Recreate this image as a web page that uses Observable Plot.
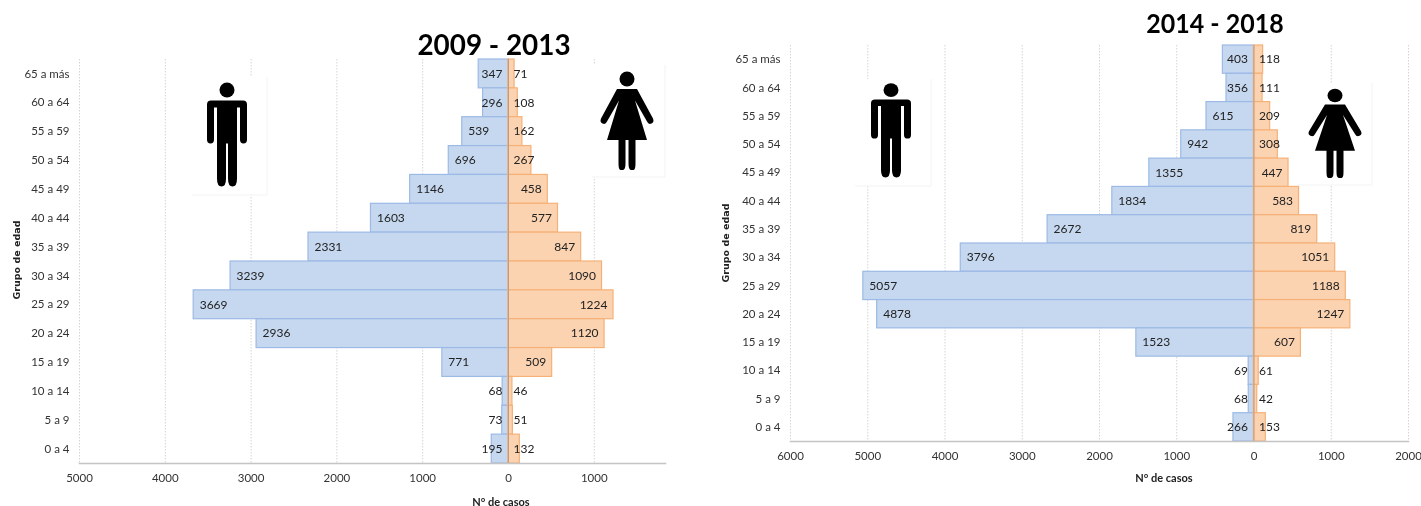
<!DOCTYPE html>
<html><head><meta charset="utf-8">
<script src="https://cdn.jsdelivr.net/npm/d3@7"></script>
<script src="https://cdn.jsdelivr.net/npm/@observablehq/plot@0.6"></script>
<style>
html,body{margin:0;padding:0;background:#fff;width:1421px;height:506px;overflow:hidden}
#page{position:relative;width:1421px;height:506px;font-family:Lato,sans-serif;filter:blur(.35px)}
.t{position:absolute;white-space:nowrap;transform:translate(-50%,-50%);color:#000}
.title{font-weight:700;transform:translate(-50%,-50%) scaleX(.96)}
.xl{font-weight:700;font-size:11px;color:#222}
.yl{font-family:"DejaVu Sans",sans-serif;font-weight:700;font-size:9.5px;color:#222;transform:translate(-50%,-50%) rotate(-90deg)}
.icon{position:absolute;overflow:visible}
</style></head><body><div id="page"></div>
<script>
const ageGroups = ["65 a más","60 a 64","55 a 59","50 a 54","45 a 49","40 a 44","35 a 39","30 a 34","25 a 29","20 a 24","15 a 19","10 a 14","5 a 9","0 a 4"];
const men0913 = [347,296,539,696,1146,1603,2331,3239,3669,2936,771,68,73,195];
const women0913 = [71,108,162,267,458,577,847,1090,1224,1120,509,46,51,132];
const men1418 = [403,356,615,942,1355,1834,2672,3796,5057,4878,1523,69,68,266];
const women1418 = [118,111,209,308,447,583,819,1051,1188,1247,607,61,42,153];
const ticks0913 = [-5000,-4000,-3000,-2000,-1000,0,1000];
const ticks1418 = [-6000,-5000,-4000,-3000,-2000,-1000,0,1000,2000];

const BLUE="#c6d8f0", BLUE_S="#9dbae4", ORANGE="#fbd3b0", ORANGE_S="#f6b179", FONT='Lato,sans-serif';
const page=document.getElementById("page");

function panel({men,women,ticks,domain,left,width,mL,mR,top,bottom}){
  const rows=ageGroups.map((g,i)=>({g,m:men[i],w:women[i]}));
  const chart=Plot.plot({
    width,height:506,marginLeft:mL,marginRight:mR,marginTop:top,marginBottom:506-bottom,
    style:{background:"transparent",fontFamily:FONT,fontSize:"12px",color:"#333"},
    x:{domain,ticks,tickFormat:d=>String(Math.abs(d))},
    y:{domain:ageGroups,padding:0,round:false},
    marks:[
      Plot.ruleX(ticks,{stroke:"#d4d4d4",strokeDasharray:"1.5 1.5",strokeWidth:1}),
      Plot.barX(rows,{y:"g",x1:0,x2:d=>-d.m,fill:BLUE,stroke:BLUE_S,strokeWidth:1.2}),
      Plot.barX(rows,{y:"g",x1:0,x2:"w",fill:ORANGE,stroke:ORANGE_S,strokeWidth:1.2}),
      Plot.ruleX([0],{stroke:"#c49a78",strokeWidth:1}),
      Plot.frame({anchor:"bottom",stroke:"#c4c4c4",strokeWidth:1.5}),
      Plot.axisX({ticks,tickSize:0,tickPadding:10,label:null,fontSize:11.5,tickFormat:d=>String(Math.abs(d))}),
      Plot.axisY({tickSize:0,tickPadding:10,label:null,fontSize:11.5}),
      Plot.text(rows.filter(d=>d.m>=500),{y:"g",x:d=>-d.m,text:d=>String(d.m),textAnchor:"start",dx:6,fill:"#222",fontSize:12}),
      Plot.text(rows.filter(d=>d.m<500),{y:"g",x:()=>0,text:d=>String(d.m),textAnchor:"end",dx:-6,fill:"#222",fontSize:12}),
      Plot.text(rows.filter(d=>d.w>=400),{y:"g",x:"w",text:d=>String(d.w),textAnchor:"end",dx:-6,fill:"#222",fontSize:12}),
      Plot.text(rows.filter(d=>d.w<400),{y:"g",x:()=>0,text:d=>String(d.w),textAnchor:"start",dx:5,fill:"#222",fontSize:12})
    ]
  });
  chart.style.position="absolute";chart.style.left=left+"px";chart.style.top="0";
  page.appendChild(chart);
}
panel({men:men0913,women:women0913,ticks:ticks0913,domain:[-5000,1830],left:0,width:700,mL:79,mR:35,top:59,bottom:463});
panel({men:men1418,women:women1418,ticks:ticks1418,domain:[-6000,2000],left:710,width:711,mL:80,mR:13,top:45,bottom:441});

function label(cls,text,x,y,size){
  const d=document.createElement("div");d.className="t "+cls;d.textContent=text;
  d.style.left=x+"px";d.style.top=y+"px";if(size)d.style.fontSize=size+"px";page.appendChild(d);
}
label("title","2009 - 2013",494,43,29);
label("title","2014 - 2018",1215,23,26);
label("xl","N° de casos",501,501);
label("xl","N° de casos",1164,477);
label("yl","Grupo de edad",16,260);
label("yl","Grupo de edad",725,243);

const NS="http://www.w3.org/2000/svg";
const manShape=`<circle cx="20" cy="7.5" r="7.5"/><path d="M4 18H36Q40 18 40 22V57Q40 61 36.5 61T33 57V25H30V96Q30 104 25.5 104T21 96V61H19V96Q19 104 14.5 104T10 96V25H7V57Q7 61 3.5 61T0 57V22Q0 18 4 18Z"/>`;
const womanShape=`<circle cx="26" cy="7.5" r="7.5"/><path d="M16 17.5H36L52 47Q53.5 50.5 50.5 52T46 50L34 29L46 68.5H34.5V92Q34.5 98.5 32.5 98.5H30Q27.5 98.5 27.5 92V68.5H24.5V92Q24.5 98.5 22 98.5H19.5Q17.5 98.5 17.5 92V68.5H6L18 29L6 50Q4.5 53.5 1.5 52T0 47Z"/>`;
function icon(shape,boxX,boxY,boxW,boxH,ix,iy,sy){
  const svg=document.createElementNS(NS,"svg");
  svg.setAttribute("class","icon");svg.setAttribute("width",1421);svg.setAttribute("height",506);
  svg.style.left="0";svg.style.top="0";
  svg.innerHTML=`<rect x="${boxX}" y="${boxY}" width="${boxW}" height="${boxH}" fill="#fff"/>
  <path d="M${boxX+boxW} ${boxY}V${boxY+boxH}H${boxX}" fill="none" stroke="#f3f3f3"/>
  <g transform="translate(${ix} ${iy}) scale(1 ${sy})" fill="#000">${shape}</g>`;
  page.appendChild(svg);
}
icon(manShape,192,77,75,118,207,82.5,1);
icon(womanShape,592,65,73,112,601,71.5,1);
icon(manShape,855,79,76,107,871,83.3,0.905);
icon(womanShape,1297,83,75,102,1309,88.7,0.906);
</script></body></html>
